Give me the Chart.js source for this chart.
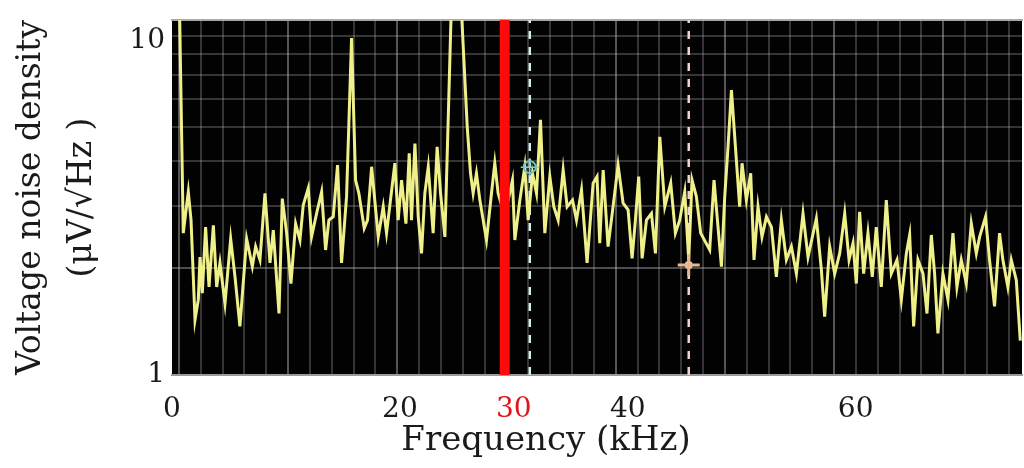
<!DOCTYPE html>
<html>
<head>
<meta charset="utf-8">
<script src="https://cdn.jsdelivr.net/npm/chart.js@4/dist/chart.umd.min.js"></script>
<style>
  html, body { margin: 0; padding: 0; background: #fff; }
  #wrap { width: 1024px; height: 468px; }
</style>
</head>
<body>
<div id="wrap"><canvas id="noise-chart" width="1024" height="468"></canvas></div>
<script>
// spectrum: frequency (kHz) and noise density (uV/sqrt(Hz))
const FREQ_KHZ = [
  0.6, 0.99, 1.43, 1.67, 2.02, 2.31, 2.46, 2.66, 2.95, 3.25, 3.63, 3.92, 4.21, 4.65, 5.15, 5.53,
  5.96, 6.55, 7.05, 7.34, 7.72, 8.16, 8.6, 8.89, 9.39, 9.68, 10.06, 10.44, 10.85, 11.23, 11.52, 11.96,
  12.25, 12.69, 13.13, 13.48, 13.77, 14.15, 14.53, 14.88, 15.32, 15.76, 16.11, 16.4, 16.87, 17.16, 17.52, 18.1,
  18.54, 18.83, 19.56, 19.85, 20.15, 20.53, 20.82, 21.02, 21.32, 21.61, 21.9, 22.19, 22.49, 22.92, 23.27, 23.57,
  23.95, 24.24, 24.5, 24.95, 25.41, 25.91, 26.2, 26.43, 26.72, 27.02, 27.6, 28.04, 28.33, 28.62, 29.2, 29.88,
  30.09, 30.53, 30.96, 31.26, 31.64, 31.99, 32.34, 32.72, 33.16, 33.51, 33.89, 34.33, 34.68, 35.15, 35.5, 35.94,
  36.43, 36.96, 37.3, 37.54, 37.84, 38.27, 38.71, 39.15, 39.59, 40.03, 40.38, 40.67, 40.96, 41.26, 41.64, 42.08,
  42.43, 42.81, 43.25, 43.77, 44.18, 44.56, 45.0, 45.35, 45.64, 46.02, 46.4, 47.19, 47.57, 47.87, 48.22, 48.51,
  48.8, 49.1, 49.45, 49.82, 50.03, 50.41, 50.79, 51.08, 51.43, 51.78, 52.17, 52.61, 53.04, 53.48, 53.92, 54.36,
  54.8, 55.38, 55.82, 56.55, 56.99, 57.28, 57.72, 58.16, 58.6, 59.04, 59.42, 59.77, 60.06, 60.35, 60.7, 61.08,
  61.46, 61.81, 62.25, 62.69, 63.13, 63.63, 64.01, 64.45, 64.74, 65.09, 65.47, 65.91, 66.26, 66.64, 66.93, 67.22,
  67.66, 68.1, 68.54, 68.89, 69.27, 69.71, 70.15, 70.59, 70.88, 71.4, 71.75, 72.19, 72.63, 72.92, 73.36, 73.66,
  74.1, 74.45
];
const NOISE = [
  14, 2.51, 3.28, 2.73, 1.43, 1.63, 2.15, 1.70, 2.61, 1.77, 2.64, 1.77, 2.07, 1.59, 2.42, 1.89,
  1.37, 2.42, 2.02, 2.30, 2.11, 3.25, 2.07, 2.56, 1.49, 3.14, 2.51, 1.81, 2.67, 2.40, 3.01, 3.36,
  2.45, 2.85, 3.28, 2.25, 2.73, 2.79, 3.90, 2.07, 3.18, 8.89, 3.54, 3.25, 2.59, 2.73, 3.86, 2.45,
  2.98, 2.51, 3.95, 2.73, 3.54, 2.67, 4.21, 2.73, 4.49, 2.79, 2.20, 3.25, 3.86, 2.51, 4.39, 3.25,
  2.45, 5.23, 10.5, 14, 10.5, 5.0, 3.70, 3.25, 3.70, 3.11, 2.40, 3.25, 3.95, 3.25, 2.8, 3.54,
  2.40, 3.11, 3.86, 2.73, 3.70, 3.25, 5.23, 2.51, 3.62, 2.98, 2.73, 3.78, 2.98, 3.11, 2.73, 3.32,
  2.07, 3.47, 3.62, 2.35, 3.78, 2.30, 2.98, 3.90, 3.05, 2.92, 2.13, 2.73, 3.62, 2.13, 2.73, 2.85,
  2.20, 4.69, 2.98, 3.47, 2.51, 2.73, 3.28, 2.11, 3.54, 3.18, 2.51, 2.25, 3.54, 2.73, 2.02, 3.18,
  4.39, 6.35, 4.39, 2.98, 3.95, 3.11, 3.70, 2.11, 2.98, 2.45, 2.79, 2.61, 1.89, 2.73, 2.11, 2.30,
  1.93, 2.85, 2.15, 2.76, 1.98, 1.46, 2.30, 1.93, 2.20, 2.85, 2.11, 2.35, 1.81, 2.88, 1.93, 2.51,
  1.89, 2.61, 1.77, 3.11, 1.93, 2.11, 1.63, 2.20, 2.48, 1.37, 2.11, 1.93, 1.49, 2.48, 1.93, 1.31,
  1.93, 1.63, 2.51, 1.77, 2.11, 1.81, 2.67, 2.20, 2.45, 2.79, 2.11, 1.56, 2.51, 2.11, 1.77, 2.11,
  1.85, 1.25
];

const X_TICKS = [0, 20, 30, 40, 60];
const Y_TICKS = [1, 2, 3, 4, 5, 6, 7, 8, 9, 10];
const X_MIN = 0, X_MAX = 74.6;
const Y_MIN = 1, Y_MAX = 10;

// cursors and markers
const RED_LINE_KHZ = 29.2;
const CURSOR_A_KHZ = 31.4;
const CURSOR_B_KHZ = 45.35;
const MARKER_A = { x: 31.4, y: 3.85 };
const MARKER_B = { x: 45.35, y: 2.04 };

// scope graticule (not tied to the kHz ticks)
const GRID_START = 0.6;
const GRID_STEP = 1.917;

const SERIF = '"DejaVu Serif", "Liberation Serif", serif';

const plotBackground = {
  id: 'plotBackground',
  beforeDraw(chart) {
    const { ctx, chartArea: a } = chart;
    ctx.save();
    ctx.fillStyle = '#020202';
    ctx.fillRect(a.left, a.top, a.right - a.left, a.bottom - a.top);
    ctx.restore();
  },
};

// keep tick labels from pushing the plot area around
function noPadding(scale) {
  scale.paddingTop = 0;
  scale.paddingBottom = 0;
  scale.paddingLeft = 0;
  scale.paddingRight = 0;
}

const vline = (x) => [{ x, y: Y_MIN }, { x, y: Y_MAX }];

new Chart(document.getElementById('noise-chart'), {
  type: 'line',
  data: {
    datasets: [
      {
        data: vline(RED_LINE_KHZ),
        borderColor: '#ff0a0a',
        borderWidth: 10,
        pointRadius: 0,
        order: 0,
      },
      {
        data: [MARKER_A],
        showLine: false,
        pointStyle: 'circle',
        pointRadius: 6,
        pointBorderWidth: 2,
        pointBorderColor: '#6cc4c4',
        pointBackgroundColor: 'rgba(0,0,0,0)',
        order: 1,
      },
      {
        data: [MARKER_A],
        showLine: false,
        pointStyle: 'cross',
        pointRadius: 9,
        pointBorderWidth: 1.5,
        pointBorderColor: '#8fd0d0',
        order: 1,
      },
      {
        data: [MARKER_B],
        showLine: false,
        pointStyle: 'cross',
        pointRadius: 11,
        pointBorderWidth: 3,
        pointBorderColor: '#e8b690',
        order: 1,
      },
      {
        data: [MARKER_B],
        showLine: false,
        pointStyle: 'circle',
        pointRadius: 4,
        pointBorderWidth: 0,
        pointBackgroundColor: '#f0c8a8',
        order: 1,
      },
      {
        data: FREQ_KHZ.map((f, i) => ({ x: f, y: NOISE[i] })),
        borderColor: '#f0f08a',
        borderWidth: 3,
        pointRadius: 0,
        tension: 0,
        order: 2,
      },
      {
        data: vline(CURSOR_A_KHZ),
        borderColor: '#d6ecf0',
        borderWidth: 2.5,
        borderDash: [8, 8],
        pointRadius: 0,
        order: 3,
      },
      {
        data: vline(CURSOR_B_KHZ),
        borderColor: '#efd6cc',
        borderWidth: 2.5,
        borderDash: [8, 8],
        pointRadius: 0,
        order: 3,
      },
    ],
  },
  options: {
    responsive: false,
    animation: false,
    layout: { autoPadding: false, padding: { top: 20, right: 2, left: 0, bottom: 0 } },
    plugins: {
      legend: { display: false },
      tooltip: { enabled: false },
    },
    scales: {
      x: {
        type: 'linear',
        min: X_MIN,
        max: X_MAX,
        afterBuildTicks: (scale) => { scale.ticks = X_TICKS.map(v => ({ value: v })); },
        afterFit: (scale) => { scale.height = 93; noPadding(scale); },
        grid: { display: false },
        border: { color: '#9a9a9a', width: 2 },
        ticks: {
          autoSkip: false,
          maxRotation: 0,
          padding: 10,
          font: { family: SERIF, size: 28 },
          color: (ctx) => (ctx.tick && ctx.tick.value === 30 ? '#e0151b' : '#1a1a1a'),
        },
        title: {
          display: true,
          text: 'Frequency (kHz)\u2003\u2003\u2003',
          color: '#1a1a1a',
          font: { family: SERIF, size: 34, lineHeight: 1.2 },
          padding: { top: 0, bottom: 6 },
        },
      },
      xg: {
        type: 'linear',
        position: 'top',
        min: X_MIN,
        max: X_MAX,
        afterBuildTicks: (scale) => {
          const t = [];
          for (let v = GRID_START; v < X_MAX; v += GRID_STEP) t.push({ value: v });
          scale.ticks = t;
        },
        afterFit: (scale) => { scale.height = 0; noPadding(scale); },
        ticks: { display: false },
        grid: {
          drawTicks: false,
          lineWidth: 2,
          color: (ctx) => (ctx.index % 5 === 0 ? 'rgba(200,200,200,0.42)' : 'rgba(200,200,200,0.26)'),
        },
        border: { color: '#a8a8a8', width: 2 },
      },
      y: {
        type: 'logarithmic',
        min: Y_MIN,
        max: Y_MAX,
        afterBuildTicks: (scale) => { scale.ticks = Y_TICKS.map(v => ({ value: v })); },
        afterFit: (scale) => { scale.width = 172; noPadding(scale); },
        border: { display: false },
        grid: {
          drawTicks: false,
          lineWidth: 2,
          color: (ctx) => {
            const v = ctx.tick && ctx.tick.value;
            if (v === Y_MIN || v === Y_MAX) return 'rgba(0,0,0,0)';
            return v === 2 ? 'rgba(200,200,200,0.38)' : 'rgba(200,200,200,0.26)';
          },
        },
        ticks: {
          autoSkip: false,
          padding: 7,
          font: { family: SERIF, size: 28, lineHeight: 1.5 },
          color: '#1a1a1a',
          callback: (v) => (v === 10 ? ['', '10'] : v === 1 ? '1' : ''),
        },
        title: {
          display: true,
          text: ['Voltage noise density', '(\u03bcV/\u221aHz )'],
          color: '#1a1a1a',
          font: { family: SERIF, size: 33, lineHeight: 1.55 },
          padding: { top: 6, bottom: 0 },
        },
      },
    },
  },
  plugins: [plotBackground],
});
</script>
</body>
</html>
